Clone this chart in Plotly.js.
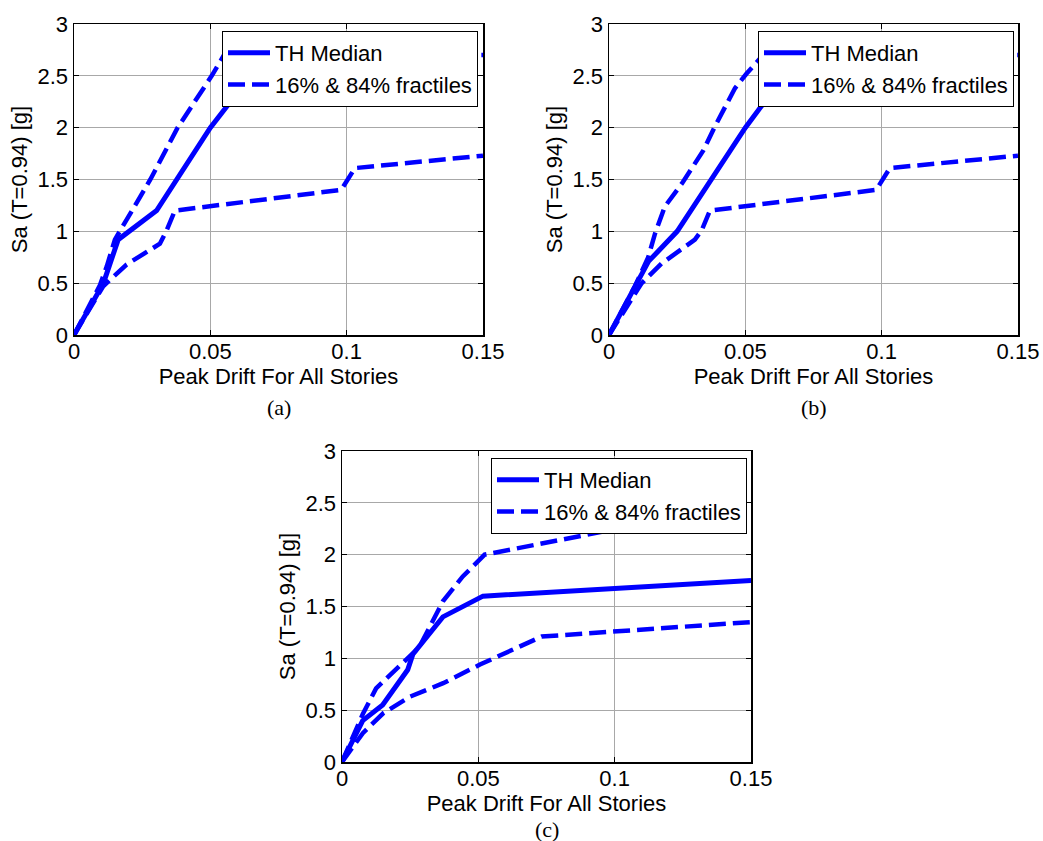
<!DOCTYPE html>
<html><head><meta charset="utf-8">
<script src="https://cdn.plot.ly/plotly-3.0.1.min.js"></script>
<style>html,body{margin:0;padding:0;background:#fff}</style>
</head><body>
<div id="chart" style="width:1043px;height:841px"></div>
<script>
// ---- data ----
const xTicks = [0, 0.05, 0.1, 0.15];
const yTicks = [0, 0.5, 1, 1.5, 2, 2.5, 3];
const seriesNames = ["TH Median", "16% & 84% fractiles"];
const panelLabels = ["(a)", "(b)", "(c)"];
const xTitle = "Peak Drift For All Stories";
const yTitle = "Sa (T=0.94) [g]";

// panel (a)
const aMedianX = [0, 0.0108, 0.0162, 0.0303, 0.05, 0.0615, 0.07];
const aMedianY = [0, 0.50, 0.92, 1.20, 2.00, 2.39, 2.70];
const aUpperX  = [0, 0.0095, 0.012, 0.015, 0.028, 0.038, 0.0505, 0.055, 0.15];
const aUpperY  = [0, 0.48, 0.66, 0.92, 1.50, 2.00, 2.50, 2.70, 2.70];
const aLowerX  = [0, 0.0107, 0.0193, 0.0315, 0.034, 0.037, 0.098, 0.103, 0.15];
const aLowerY  = [0, 0.47, 0.68, 0.88, 1.01, 1.20, 1.40, 1.61, 1.73];

// panel (b)
const bMedianX = [0, 0.0145, 0.025, 0.05, 0.0602, 0.069];
const bMedianY = [0, 0.71, 1.00, 2.00, 2.36, 2.70];
const bUpperX  = [0, 0.0095, 0.0144, 0.0169, 0.0205, 0.0267, 0.0346, 0.0388, 0.0462, 0.0504, 0.0565, 0.15];
const bUpperY  = [0, 0.47, 0.75, 0.98, 1.24, 1.46, 1.78, 2.01, 2.38, 2.52, 2.70, 2.70];
const bLowerX  = [0, 0.012, 0.0193, 0.0315, 0.034, 0.037, 0.098, 0.103, 0.15];
const bLowerY  = [0, 0.50, 0.69, 0.92, 1.01, 1.20, 1.40, 1.61, 1.73];

// panel (c)
const cMedianX = [0, 0.0076, 0.0149, 0.0241, 0.026, 0.037, 0.0517, 0.15];
const cMedianY = [0, 0.40, 0.55, 0.89, 1.04, 1.40, 1.60, 1.75];
const cUpperX  = [0, 0.0076, 0.0125, 0.0199, 0.0284, 0.037, 0.0443, 0.0523, 0.15];
const cUpperY  = [0, 0.46, 0.71, 0.89, 1.11, 1.55, 1.79, 2.00, 2.50];
const cLowerX  = [0, 0.0077, 0.0151, 0.0249, 0.0371, 0.0506, 0.0732, 0.15];
const cLowerY  = [0, 0.28, 0.47, 0.63, 0.76, 0.94, 1.21, 1.35];

// ---- styling / layout ----
const W = 1043, H = 841;
const BLUE = "#0000ff";
const SANS = "Liberation Sans, Arial, sans-serif";
const SERIF = "Liberation Serif, Times New Roman, serif";
const FS = 22;

const panels = [
  {mx: aMedianX, my: aMedianY, ux: aUpperX, uy: aUpperY, lx: aLowerX, ly: aLowerY,
   px: [74, 483], py: [24, 335], legendRight: 478, legendTop: 31, labelY: 408},
  {mx: bMedianX, my: bMedianY, ux: bUpperX, uy: bUpperY, lx: bLowerX, ly: bLowerY,
   px: [609, 1018], py: [24, 335], legendRight: 1014, legendTop: 31, labelY: 408},
  {mx: cMedianX, my: cMedianY, ux: cUpperX, uy: cUpperY, lx: cLowerX, ly: cLowerY,
   px: [342, 751], py: [451, 762], legendRight: 747, legendTop: 458, labelY: 829}
];

const data = [];
const layout = {
  width: W, height: H,
  margin: {l: 0, r: 0, t: 0, b: 0},
  paper_bgcolor: "#fff", plot_bgcolor: "#fff",
  font: {family: SANS, size: FS, color: "#000"},
  showlegend: true,
  annotations: []
};

panels.forEach((p, i) => {
  const n = i === 0 ? "" : String(i + 1);
  const xa = "x" + n, ya = "y" + n;
  const lg = "legend" + n;
  data.push({x: p.mx, y: p.my, xaxis: xa, yaxis: ya, type: "scatter", mode: "lines",
    name: seriesNames[0], legend: lg, line: {color: BLUE, width: 5}});
  data.push({x: p.ux, y: p.uy, xaxis: xa, yaxis: ya, type: "scatter", mode: "lines",
    name: seriesNames[1], legend: lg, legendgroup: "f" + i,
    line: {color: BLUE, width: 4.5, dash: "17px,7px"}});
  data.push({x: p.lx, y: p.ly, xaxis: xa, yaxis: ya, type: "scatter", mode: "lines",
    name: seriesNames[1], legend: lg, legendgroup: "f" + i, showlegend: false,
    line: {color: BLUE, width: 4.5, dash: "17px,7px"}});

  const common = {
    showgrid: true, gridcolor: "#a8a8a8", gridwidth: 1,
    zeroline: false, showline: true, linecolor: "#000", linewidth: 1.5,
    mirror: "ticks", ticks: "inside", ticklen: 5, tickcolor: "#000", tickwidth: 1,
    tickfont: {family: SANS, size: FS, color: "#000"},
    automargin: false, fixedrange: true
  };
  layout["xaxis" + n] = Object.assign({}, common, {
    domain: [p.px[0] / W, p.px[1] / W], anchor: ya,
    range: [0, 0.15], tickmode: "array", tickvals: xTicks, ticktext: xTicks.map(String),
    ticklabelstandoff: -4,
    title: {text: xTitle, font: {family: SANS, size: FS, color: "#000"}, standoff: 0}
  });
  layout["yaxis" + n] = Object.assign({}, common, {
    domain: [1 - p.py[1] / H, 1 - p.py[0] / H], anchor: xa,
    range: [0, 3], tickmode: "array", tickvals: yTicks, ticktext: yTicks.map(String),
    title: {text: yTitle, font: {family: SANS, size: FS, color: "#000"}, standoff: 4}
  });
  layout[lg] = {
    x: p.legendRight / W, xanchor: "right",
    y: 1 - p.legendTop / H, yanchor: "top",
    bgcolor: "#fff", bordercolor: "#000", borderwidth: 1,
    font: {family: SANS, size: 22, color: "#000"},
    itemwidth: 42, tracegroupgap: 0, traceorder: "normal"
  };
  layout.annotations.push({
    xref: "paper", yref: "paper", x: (p.px[0] + p.px[1]) / 2 / W, y: 1 - p.labelY / H,
    xanchor: "center", yanchor: "middle", showarrow: false, text: panelLabels[i],
    font: {family: SERIF, size: FS, color: "#000"}
  });
});

Plotly.newPlot("chart", data, layout, {staticPlot: true, displayModeBar: false});
</script>
</body></html>
